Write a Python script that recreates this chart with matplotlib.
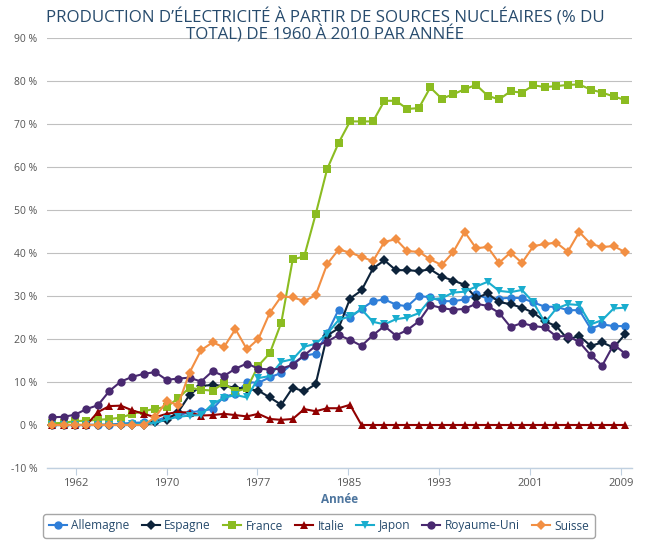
import matplotlib
matplotlib.use("Agg")
import matplotlib.pyplot as plt
import numpy as np

# -----------------------------
# Data (% of total electricity from nuclear)
# -----------------------------
years = list(range(1960, 2011))

allemagne = [0.0, 0.0, 0.0, 0.0, 0.1, 0.1, 0.3, 0.5, 0.6, 0.9,
             1.9, 2.3, 2.9, 3.3, 3.7, 6.6, 7.2, 10.0, 9.8, 11.1,
             12.1, 14.3, 16.1, 16.6, 21.3, 26.8, 25.0, 27.0, 28.8, 29.2,
             28.0, 27.6, 30.0, 29.7, 28.8, 28.8, 29.2, 30.4, 29.4, 29.4,
             29.6, 29.5, 28.5, 27.5, 27.5, 26.7, 26.7, 22.4, 23.4, 23.0,
             23.0]
espagne = [0.0, 0.0, 0.0, 0.0, 0.0, 0.0, 0.0, 0.0, 0.0, 0.6,
           1.2, 3.0, 7.0, 9.1, 9.3, 9.1, 8.7, 8.4, 8.0, 6.4,
           4.7, 8.7, 7.8, 9.5, 20.8, 22.5, 29.4, 31.3, 36.4, 38.3,
           36.0, 36.0, 35.8, 36.2, 34.5, 33.6, 32.6, 29.5, 30.6, 28.6,
           28.1, 27.3, 26.1, 24.1, 23.0, 19.9, 20.7, 18.4, 19.2, 18.0,
           21.1]
france = [0.4, 0.5, 0.9, 1.0, 1.2, 1.4, 1.7, 2.6, 3.2, 3.8,
          4.2, 6.2, 8.7, 8.2, 8.0, 9.7, 7.8, 8.5, 13.8, 16.7,
          23.8, 38.5, 39.2, 49.0, 59.5, 65.6, 70.6, 70.6, 70.6, 75.4,
          75.4, 73.5, 73.7, 78.5, 75.9, 76.9, 78.1, 79.1, 76.6, 75.7,
          77.6, 77.3, 79.0, 78.6, 78.8, 79.1, 79.2, 78.0, 77.3, 76.4,
          75.6]
italie = [0.0, 0.0, 0.0, 0.0, 3.0, 4.4, 4.5, 3.4, 2.6, 1.8,
          2.6, 3.0, 2.9, 2.2, 2.3, 2.6, 2.3, 2.0, 2.6, 1.4,
          1.2, 1.4, 3.7, 3.2, 3.9, 3.9, 4.7, 0.0, 0.0, 0.0,
          0.0, 0.0, 0.0, 0.0, 0.0, 0.0, 0.0, 0.0, 0.0, 0.0,
          0.0, 0.0, 0.0, 0.0, 0.0, 0.0, 0.0, 0.0, 0.0, 0.0,
          0.0]
japon = [0.0, 0.0, 0.0, 0.0, 0.0, 0.0, 0.1, 0.2, 0.3, 0.5,
         1.3, 1.9, 2.2, 2.3, 4.9, 6.3, 7.0, 6.4, 10.9, 11.4,
         14.7, 15.3, 18.2, 18.9, 21.2, 24.4, 25.3, 26.9, 24.0, 23.4,
         24.6, 25.0, 26.0, 29.2, 29.5, 30.8, 31.0, 32.2, 33.3, 31.2,
         30.9, 31.4, 28.5, 23.8, 27.1, 28.1, 27.9, 23.4, 24.4, 27.1,
         27.3]
royaume_uni = [1.8, 1.9, 2.4, 3.7, 4.6, 7.9, 10.1, 11.2, 11.9, 12.3,
               10.5, 10.8, 11.0, 10.1, 12.5, 11.4, 13.1, 14.3, 13.1, 12.9,
               13.1, 14.0, 16.2, 18.4, 19.4, 20.9, 19.8, 18.4, 20.9, 23.0,
               20.8, 22.1, 24.1, 27.9, 27.2, 26.8, 27.0, 28.2, 27.7, 26.1,
               22.8, 23.7, 23.0, 22.7, 20.6, 20.7, 19.3, 16.2, 13.8, 18.7,
               16.6]
suisse = [0.0, 0.0, 0.0, 0.0, 0.0, 0.0, 0.0, 0.0, 0.0, 1.8,
          5.5, 4.7, 12.2, 17.4, 19.2, 18.1, 22.3, 17.6, 20.0, 26.1,
          29.9, 29.7, 28.8, 30.2, 37.4, 40.8, 40.1, 39.1, 38.1, 42.6,
          43.2, 40.4, 40.3, 38.5, 37.2, 40.2, 44.9, 41.1, 41.4, 37.7,
          40.1, 37.7, 41.6, 42.1, 42.4, 40.3, 44.9, 42.1, 41.4, 41.6,
          40.2]

series = [
    ("Allemagne", allemagne, "#2f7ed8", "o", 6.0),
    ("Espagne", espagne, "#0d233a", "D", 4.6),
    ("France", france, "#8bbc21", "s", 5.8),
    ("Italie", italie, "#910000", "^", 6.4),
    ("Japon", japon, "#1aadce", "v", 6.4),
    ("Royaume-Uni", royaume_uni, "#492970", "o", 6.0),
    ("Suisse", suisse, "#f28f43", "D", 4.6),
]

plt.rcParams["font.family"] = ["Open Sans", "DejaVu Sans"]

W, H = 651, 551
fig = plt.figure(figsize=(W / 100, H / 100), dpi=100)
ax = fig.add_axes([47 / W, (H - 468) / H, 585 / W, 430 / H])

for name, vals, color, marker, ms in series:
    ax.plot(years, vals, color=color, lw=1.5, marker=marker, ms=ms,
            mew=0, label=name, clip_on=False)

# -----------------------------
# Axes styling
# -----------------------------
ax.set_xlim(1959.56, 2010.6)
ax.set_ylim(-10, 90)

yticks = list(range(-10, 91, 10))
ax.set_yticks(yticks)
ax.set_yticklabels([f"{v} %" for v in yticks], fontsize=7.5, color="#555555")
ax.yaxis.grid(True, color="#c0c0c0", lw=0.8)
ax.set_axisbelow(True)
ax.tick_params(axis="y", length=0, pad=7)

# x ticks every 2.5e11 ms from the epoch (like the original time axis)
year_ms = 365.2425 * 86400e3
tick_pos = [1970 + k * 2.5e11 / year_ms for k in range(-1, 6)]
tick_lab = [str(int(np.floor(p))) for p in tick_pos]
ax.set_xticks(tick_pos)
ax.set_xticklabels(tick_lab, fontsize=8, color="#555555")
ax.tick_params(axis="x", length=5, color="#c0d0e0", pad=2)

for s in ["top", "right", "left"]:
    ax.spines[s].set_visible(False)
ax.spines["bottom"].set_color("#c0d0e0")
ax.spines["bottom"].set_linewidth(1)

ax.set_xlabel("Année", fontsize=8.5, fontweight="bold", color="#4d759e", labelpad=3)

fig.text(0.5, (H - 26) / H,
         "PRODUCTION D’ÉLECTRICITÉ À PARTIR DE SOURCES NUCLÉAIRES (% DU\nTOTAL) DE 1960 À 2010 PAR ANNÉE",
         ha="center", va="center", fontsize=12.2, color="#274b6d", linespacing=0.95)

leg = fig.legend(loc="center", bbox_to_anchor=(319 / W, (H - 526) / H), ncol=7,
                 fontsize=8.6, frameon=True, handlelength=1.5, handletextpad=0.4,
                 columnspacing=1.0, borderpad=0.45, fancybox=True)
leg.get_frame().set_edgecolor("#909090")
leg.get_frame().set_linewidth(1)
for t in leg.get_texts():
    t.set_color("#274b6d")

fig.savefig("out.png", dpi=100)
